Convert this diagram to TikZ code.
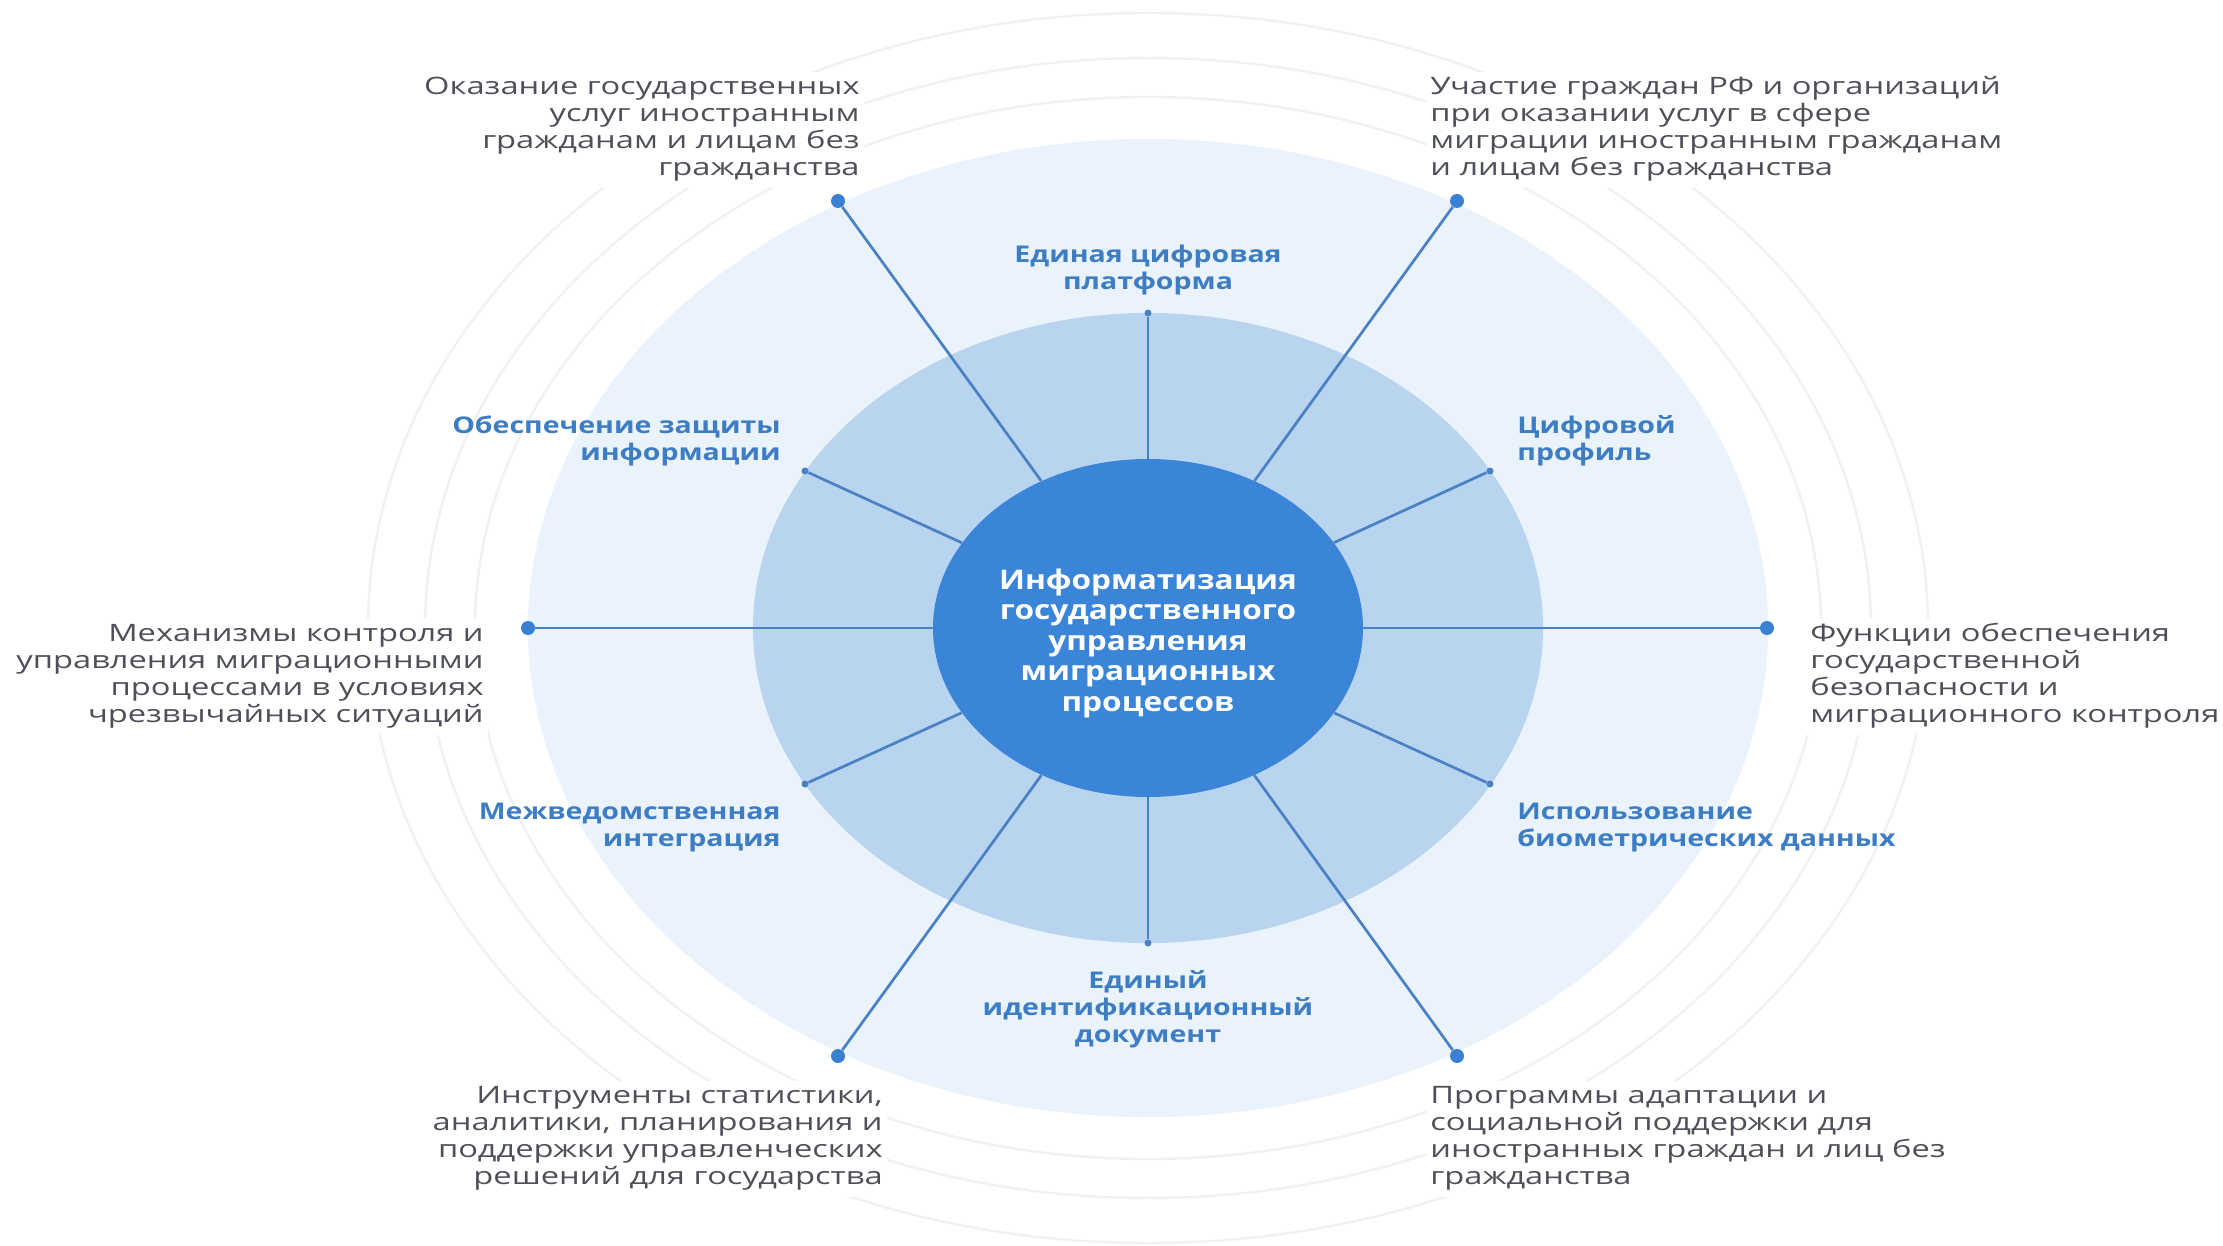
\documentclass[tikz,border=0pt]{standalone}
\usepackage{fontspec}
\setmainfont{Open Sans}
\usepackage{graphicx}
\usetikzlibrary{shapes.geometric}
\definecolor{ringcol}{HTML}{F0F1F3}
\definecolor{disccol}{HTML}{EAF2FB}
\definecolor{midcol}{HTML}{B9D4EF}
\definecolor{corecol}{HTML}{3A85D8}
\definecolor{spokecol}{HTML}{4A80C4}
\definecolor{dotcol}{HTML}{3A80D2}
\definecolor{innertext}{HTML}{3D7DC4}
\definecolor{outertext}{HTML}{4D5058}
\newcommand\blk[3]{\scalebox{#1}[1]{\begin{tabular}{@{}#2@{}}#3\end{tabular}}}
\newcommand\osx{1.36}
\newcommand\isx{1.24}
\begin{document}
\begin{tikzpicture}[x=0.5pt,y=-0.5pt,
  ring/.style={draw=ringcol, line width=1.2pt},
  outerlbl/.style={fill=white, inner sep=2pt, text=outertext, font=\fontsize{12}{13.5}\selectfont},
  innerlbl/.style={inner sep=0pt, text=innertext, font=\fontsize{11.5}{13.5}\selectfont\bfseries},
  bigdot/.style={circle, fill=dotcol, inner sep=0pt, minimum size=7pt},
  smalldot/.style={circle, fill=spokecol, inner sep=0pt, minimum size=3.5pt},
  spoke/.style={draw=spokecol, line width=1.35pt},
  core/.style={ellipse, fill=corecol, inner sep=0pt, minimum width=215pt, minimum height=169pt},
  coretext/.style={inner sep=0pt, text=white, font=\fontsize{13.5}{15.25}\selectfont\bfseries}
]
\useasboundingbox (0,0) rectangle (2223,1246);
\fill[white] (0,0) rectangle (2223,1246);
% faint outer rings
\draw[ring] (1148,628) ellipse [x radius=390pt, y radius=307.5pt];
\draw[ring] (1148,628) ellipse [x radius=361.5pt, y radius=285pt];
\draw[ring] (1148,628) ellipse [x radius=336.5pt, y radius=265.5pt];
% discs
\fill[disccol] (1148,628) ellipse [x radius=310pt, y radius=244.5pt];
\fill[midcol] (1148,628) ellipse [x radius=197.5pt, y radius=157.5pt];

% outer labels
\node[outerlbl, anchor=east] (tl) at (864,130) {\blk{\osx}{r}{Оказание государственных\\услуг иностранным\\гражданам и лицам без\\гражданства}};
\node[outerlbl, anchor=west] (tr) at (1426,130) {\blk{\osx}{l}{Участие граждан РФ и организаций\\при оказании услуг в сфере\\миграции иностранным гражданам\\и лицам без гражданства}};
\node[outerlbl, anchor=east] (ml) at (488,677) {\blk{\osx}{r}{Механизмы контроля и\\управления миграционными\\процессами в условиях\\чрезвычайных ситуаций}};
\node[outerlbl, anchor=west] (mr) at (1806,677) {\blk{\osx}{l}{Функции обеспечения\\государственной\\безопасности и\\миграционного контроля}};
\node[outerlbl, anchor=east] (bl) at (887,1139) {\blk{\osx}{r}{Инструменты статистики,\\аналитики, планирования и\\поддержки управленческих\\решений для государства}};
\node[outerlbl, anchor=west] (br) at (1426,1139) {\blk{\osx}{l}{Программы адаптации и\\социальной поддержки для\\иностранных граждан и лиц без\\гражданства}};

% inner labels
\node[innerlbl] (lt) at (1148,271) {\blk{\isx}{c}{Единая цифровая\\платформа}};
\node[innerlbl, anchor=west] (lur) at (1517,442) {\blk{\isx}{l}{Цифровой\\профиль}};
\node[innerlbl, anchor=east] (lul) at (781,442) {\blk{\isx}{r}{Обеспечение защиты\\информации}};
\node[innerlbl, anchor=east] (lll) at (781,828) {\blk{\isx}{r}{Межведомственная\\интеграция}};
\node[innerlbl, anchor=west] (llr) at (1517,828) {\blk{\isx}{l}{Использование\\биометрических данных}};
\node[innerlbl] (lb) at (1148,1010) {\blk{\isx}{c}{Единый\\идентификационный\\документ}};

% dots
\node[bigdot] (dTL) at (838,201) {};
\node[bigdot] (dTR) at (1457,201) {};
\node[bigdot] (dL) at (528,628) {};
\node[bigdot] (dR) at (1767,628) {};
\node[bigdot] (dBL) at (838,1056) {};
\node[bigdot] (dBR) at (1457,1056) {};
\node[smalldot] (sT) at (1148,313) {};
\node[smalldot] (sB) at (1148,943) {};
\node[smalldot] (sUL) at (805,471) {};
\node[smalldot] (sUR) at (1490,471) {};
\node[smalldot] (sLL) at (805,784) {};
\node[smalldot] (sLR) at (1490,784) {};

% core
\node[core] (c) at (1148,628) {};
\node[coretext] (ct) at (1148,644) {\blk{1.17}{c}{Информатизация\\государственного\\управления\\миграционных\\процессов}};

% spokes
\foreach \d in {dTL,dTR,dL,dR,dBL,dBR,sT,sB,sUL,sUR,sLL,sLR}
  \draw[spoke] (c) -- (\d);
\end{tikzpicture}
\end{document}
